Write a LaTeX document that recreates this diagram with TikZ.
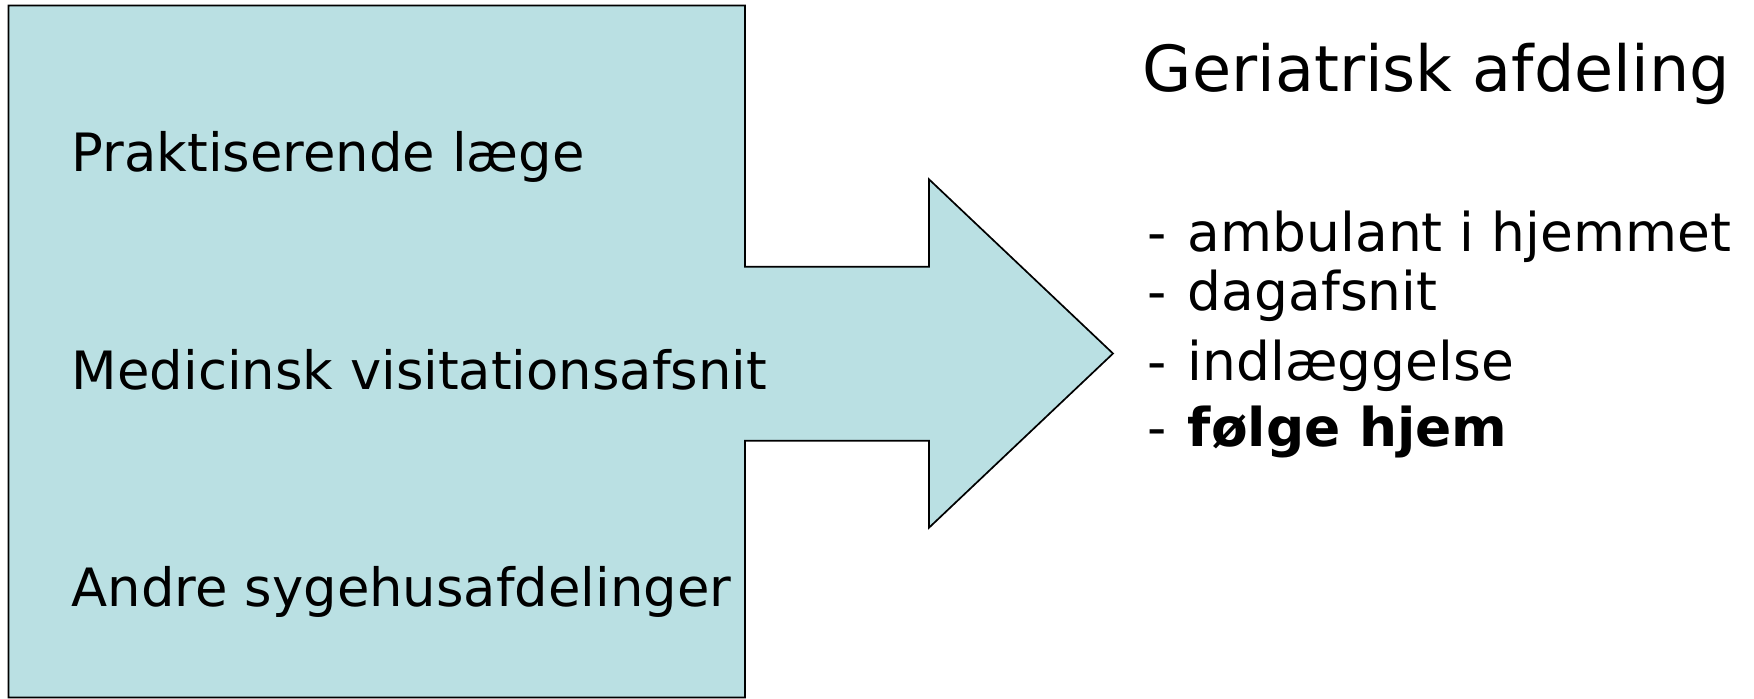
\documentclass[tikz,border=0pt]{standalone}
\usepackage{fontspec}
\setmainfont{DejaVu Sans}
\usepackage{xcolor}
\definecolor{boxblue}{RGB}{186,224,227}
\newcommand{\dashsep}{-\hspace{0.39em}}

\tikzset{srctext/.style={anchor=base west,inner sep=0pt,font=\fontsize{26.4}{30}\selectfont},
   listtext/.style={anchor=base west,inner sep=0pt,font=\fontsize{26.7}{30}\selectfont},
   headtext/.style={anchor=base west,inner sep=0pt,font=\fontsize{31.8}{36}\selectfont}}

\begin{document}
\begin{tikzpicture}[x=0.5pt,y=-0.5pt,line width=0.85pt]
\useasboundingbox (0,0) rectangle (1754,698);
% box with the arrow
\draw[fill=boxblue] (8.5,5.5) -- (745,5.5) -- (745,266.7) -- (929,266.7)
   -- (929,179.3) -- (1113,353.5) -- (929,527.7) -- (929,440.7)
   -- (745,440.7) -- (745,697.5) -- (8.5,697.5) -- cycle;
% senders
\node[srctext] (prakt) at (71,171.7) {Praktiserende læge};
\node[srctext] (visit) at (71,389.3) {Medicinsk visitationsafsnit};
\node[srctext] (andre) at (71,606.7) {Andre sygehusafdelinger};
% geriatric unit
\node[headtext] (geri) at (1142,91.7) {Geriatrisk afdeling};
\node[listtext] (amb) at (1147,251.7) {\dashsep ambulant i hjemmet};
\node[listtext] (dag) at (1147,310) {\dashsep dagafsnit};
\node[listtext] (indl) at (1147,380) {\dashsep indlæggelse};
\node[listtext] (folg) at (1147,446.7) {\dashsep\textbf{følge hjem}};
\end{tikzpicture}
\end{document}
